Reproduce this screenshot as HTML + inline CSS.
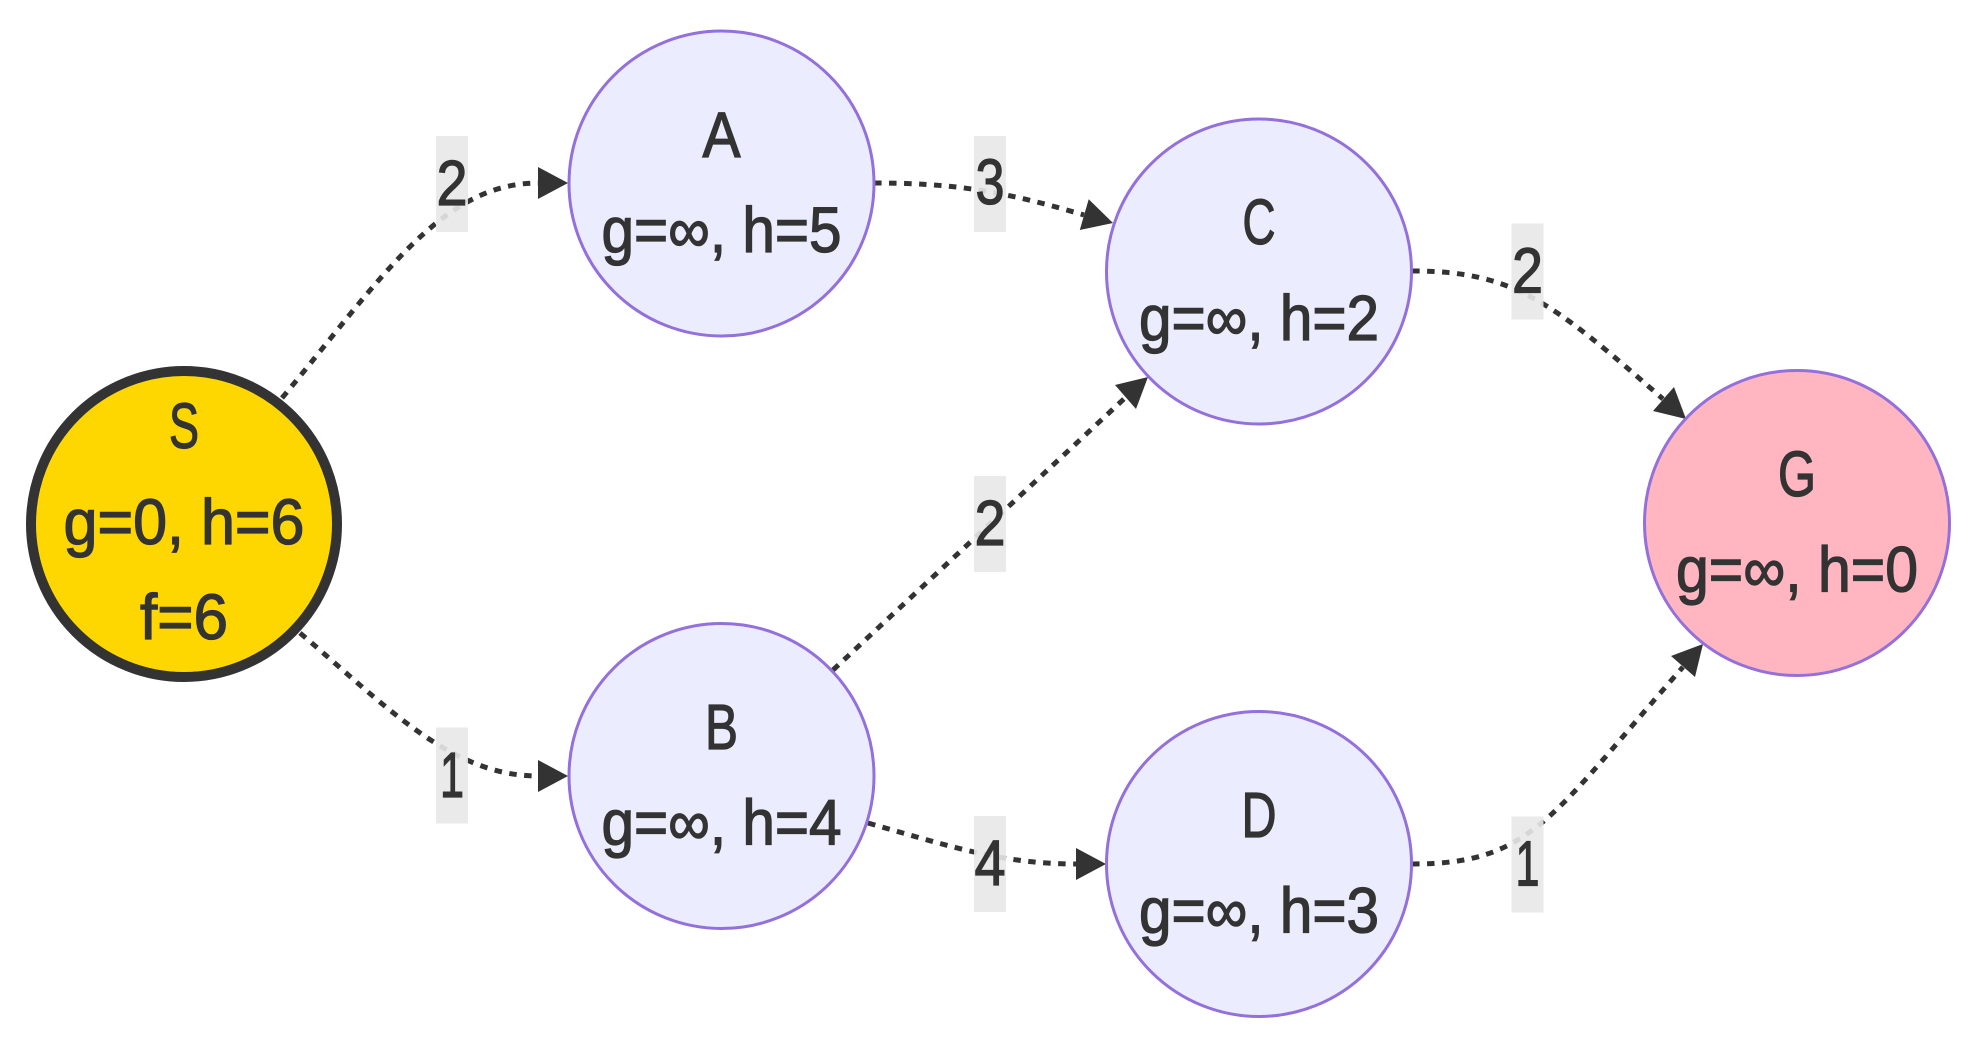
<!DOCTYPE html>
<html>
<head>
<meta charset="utf-8">
<style>
  html, body { margin: 0; padding: 0; background: #ffffff; }
  body { width: 1980px; height: 1048px; overflow: hidden; }
  svg { display: block; }
  text { font-family: "Liberation Sans", "DejaVu Sans", sans-serif; fill: #333333; stroke: #333333; stroke-width: 1.3; text-anchor: middle; }
</style>
</head>
<body>
<svg width="1980" height="1048" viewBox="0 0 1980 1048" xmlns="http://www.w3.org/2000/svg">
  <rect x="0" y="0" width="1980" height="1048" fill="#ffffff"/>

  <!-- Edges -->
  <g fill="none" stroke="#333333" stroke-width="5" stroke-dasharray="7.5 7.5">
    <path d="M282,398 C378,283 440,183 538,183"/>
    <path d="M300,633 C384,704 450,776 538,776"/>
    <path d="M874,183 C950,183 1000,190 1084,215"/>
    <path d="M833,670 L1126,397"/>
    <path d="M868,823 C955,848 1005,864 1076,864"/>
    <path d="M1412,271 C1512,271 1550,300 1663,399"/>
    <path d="M1412,864 C1532,864 1551,817 1683,667"/>
  </g>

  <!-- Arrowheads -->
  <g fill="#333333" stroke="none">
    <polygon points="568,183 538,167 538,199"/>
    <polygon points="568,776 538,760 538,792"/>
    <polygon points="1113,223 1088.7,199.3 1079.8,230"/>
    <polygon points="1148,377 1115,385 1136,409"/>
    <polygon points="1106,864 1076,848 1076,880"/>
    <polygon points="1686,419 1674,387 1653,411"/>
    <polygon points="1703,644 1671,656 1695,677"/>
  </g>

  <!-- Nodes -->
  <circle cx="184" cy="524" r="153" fill="#FFD700" stroke="#333333" stroke-width="10"/>
  <circle cx="721.5" cy="183.5" r="152.5" fill="#ECECFF" stroke="#9370DB" stroke-width="3"/>
  <circle cx="721.5" cy="776" r="152.5" fill="#ECECFF" stroke="#9370DB" stroke-width="3"/>
  <circle cx="1259" cy="271.5" r="152.5" fill="#ECECFF" stroke="#9370DB" stroke-width="3"/>
  <circle cx="1259" cy="864" r="152.5" fill="#ECECFF" stroke="#9370DB" stroke-width="3"/>
  <circle cx="1797" cy="523" r="152.5" fill="#FFB6C1" stroke="#9370DB" stroke-width="3"/>

  <!-- Node text -->
  <g font-size="64">
    <text x="184" y="448" textLength="30" lengthAdjust="spacingAndGlyphs">S</text>
    <text x="184" y="544" textLength="241" lengthAdjust="spacingAndGlyphs">g=0, h=6</text>
    <text x="184" y="639" textLength="88" lengthAdjust="spacingAndGlyphs">f=6</text>

    <text x="721.5" y="157" textLength="38" lengthAdjust="spacingAndGlyphs">A</text>
    <text x="721.5" y="252" textLength="240" lengthAdjust="spacingAndGlyphs">g=∞, h=5</text>

    <text x="721.5" y="749" textLength="33" lengthAdjust="spacingAndGlyphs">B</text>
    <text x="721.5" y="844.5" textLength="240" lengthAdjust="spacingAndGlyphs">g=∞, h=4</text>

    <text x="1259" y="244" textLength="33" lengthAdjust="spacingAndGlyphs">C</text>
    <text x="1259" y="340" textLength="240" lengthAdjust="spacingAndGlyphs">g=∞, h=2</text>

    <text x="1259" y="837" textLength="35" lengthAdjust="spacingAndGlyphs">D</text>
    <text x="1259" y="932.5" textLength="240" lengthAdjust="spacingAndGlyphs">g=∞, h=3</text>

    <text x="1797" y="496" textLength="38" lengthAdjust="spacingAndGlyphs">G</text>
    <text x="1797" y="591.5" textLength="242" lengthAdjust="spacingAndGlyphs">g=∞, h=0</text>
  </g>

  <!-- Edge labels -->
  <g fill="#e8e8e8" fill-opacity="0.9">
    <rect x="436" y="136" width="32" height="96"/>
    <rect x="436" y="727.5" width="32" height="96"/>
    <rect x="974" y="136" width="32" height="96"/>
    <rect x="974" y="476" width="32" height="96"/>
    <rect x="974" y="816" width="32" height="96"/>
    <rect x="1511.5" y="223.5" width="32" height="96"/>
    <rect x="1511.5" y="816.5" width="32" height="96"/>
  </g>
  <g font-size="64">
    <text x="452" y="205" textLength="31" lengthAdjust="spacingAndGlyphs">2</text>
    <text x="452" y="797" textLength="24" lengthAdjust="spacingAndGlyphs">1</text>
    <text x="990" y="204" textLength="29" lengthAdjust="spacingAndGlyphs">3</text>
    <text x="990" y="545" textLength="31" lengthAdjust="spacingAndGlyphs">2</text>
    <text x="990" y="885" textLength="31" lengthAdjust="spacingAndGlyphs">4</text>
    <text x="1527.5" y="292.5" textLength="31" lengthAdjust="spacingAndGlyphs">2</text>
    <text x="1527.5" y="885.5" textLength="24" lengthAdjust="spacingAndGlyphs">1</text>
  </g>
</svg>
</body>
</html>
